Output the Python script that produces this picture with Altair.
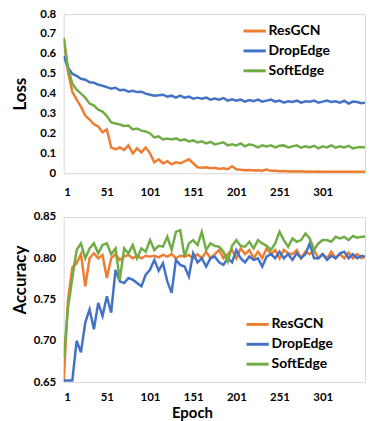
import altair as alt
import pandas as pd

EPOCHS = list(range(1, 350, 5)) + [350]
SERIES = ["ResGCN", "DropEdge", "SoftEdge"]
COLORS = ["#ED7D31", "#4472C4", "#70AD47"]
X_TICKS = [1, 51, 101, 151, 201, 251, 301]
LOSS_TICKS = [0, 0.1, 0.2, 0.3, 0.4, 0.5, 0.6, 0.7, 0.8]
ACC_TICKS = [0.65, 0.70, 0.75, 0.80, 0.85]

LOSS_RESGCN = [
    0.68, 0.51, 0.41, 0.37, 0.335, 0.29, 0.27, 0.246, 0.235, 0.206,
    0.22, 0.13, 0.12, 0.13, 0.117, 0.14, 0.10, 0.125, 0.105, 0.13,
    0.10, 0.055, 0.07, 0.05, 0.06, 0.045, 0.055, 0.05, 0.06, 0.07,
    0.05, 0.03, 0.028, 0.03, 0.025, 0.027, 0.022, 0.025, 0.02, 0.035,
    0.02, 0.018, 0.015, 0.016, 0.014, 0.015, 0.013, 0.018, 0.012, 0.013,
    0.010, 0.011, 0.009, 0.010, 0.009, 0.010, 0.008, 0.009, 0.008, 0.009,
    0.008, 0.008, 0.007, 0.008, 0.007, 0.008, 0.007, 0.008, 0.007, 0.008,
    0.008,
]
LOSS_DROPEDGE = [
    0.59, 0.53, 0.50, 0.49, 0.475, 0.47, 0.457, 0.455, 0.445, 0.44,
    0.433, 0.425, 0.43, 0.417, 0.42, 0.41, 0.415, 0.408, 0.41, 0.40,
    0.395, 0.39, 0.392, 0.395, 0.385, 0.39, 0.38, 0.39, 0.38, 0.385,
    0.375, 0.38, 0.375, 0.38, 0.37, 0.375, 0.37, 0.378, 0.365, 0.372,
    0.365, 0.37, 0.36, 0.368, 0.362, 0.37, 0.36, 0.365, 0.37, 0.36,
    0.365, 0.355, 0.362, 0.358, 0.365, 0.355, 0.362, 0.36, 0.365, 0.355,
    0.36, 0.365, 0.358, 0.362, 0.355, 0.365, 0.35, 0.36, 0.358, 0.352,
    0.355,
]
LOSS_SOFTEDGE = [
    0.68, 0.53, 0.45, 0.42, 0.40, 0.38, 0.35, 0.34, 0.32, 0.31,
    0.287, 0.255, 0.25, 0.245, 0.238, 0.24, 0.22, 0.225, 0.214, 0.21,
    0.20, 0.18, 0.185, 0.17, 0.175, 0.17, 0.175, 0.165, 0.17, 0.16,
    0.165, 0.155, 0.16, 0.15, 0.158, 0.145, 0.15, 0.155, 0.14, 0.145,
    0.14, 0.15, 0.135, 0.145, 0.14, 0.13, 0.14, 0.135, 0.14, 0.13,
    0.138, 0.14, 0.13, 0.135, 0.14, 0.128, 0.135, 0.13, 0.138, 0.125,
    0.135, 0.13, 0.14, 0.128, 0.135, 0.13, 0.138, 0.125, 0.13, 0.132,
    0.13,
]
ACC_RESGCN = [
    0.65, 0.75, 0.789, 0.794, 0.805, 0.766, 0.80, 0.806, 0.80, 0.804,
    0.776, 0.80, 0.805, 0.798, 0.802, 0.804, 0.80, 0.803, 0.80, 0.803,
    0.802, 0.803, 0.801, 0.804, 0.802, 0.805, 0.80, 0.803, 0.802, 0.804,
    0.80, 0.805, 0.80, 0.808, 0.80, 0.805, 0.81, 0.80, 0.805, 0.81,
    0.80, 0.812, 0.805, 0.81, 0.80, 0.808, 0.80, 0.812, 0.805, 0.81,
    0.80, 0.81, 0.806, 0.805, 0.81, 0.80, 0.808, 0.805, 0.81, 0.80,
    0.805, 0.80, 0.808, 0.80, 0.805, 0.80, 0.807, 0.80, 0.805, 0.80,
    0.802,
]
ACC_DROPEDGE = [
    0.652, 0.652, 0.652, 0.70, 0.686, 0.722, 0.738, 0.714, 0.746, 0.73,
    0.754, 0.734, 0.786, 0.772, 0.77, 0.776, 0.774, 0.77, 0.766, 0.78,
    0.786, 0.798, 0.785, 0.794, 0.772, 0.758, 0.798, 0.792, 0.79, 0.778,
    0.806, 0.795, 0.80, 0.79, 0.80, 0.802, 0.795, 0.792, 0.80, 0.795,
    0.81, 0.80, 0.795, 0.802, 0.798, 0.80, 0.79, 0.802, 0.805, 0.80,
    0.808, 0.80, 0.805, 0.798, 0.806, 0.80, 0.805, 0.818, 0.80, 0.80,
    0.805, 0.798, 0.803, 0.80, 0.806, 0.808, 0.80, 0.805, 0.80, 0.803,
    0.802,
]
ACC_SOFTEDGE = [
    0.68, 0.74, 0.776, 0.81, 0.818, 0.80, 0.812, 0.818, 0.806, 0.816,
    0.818, 0.805, 0.812, 0.774, 0.812, 0.806, 0.816, 0.80, 0.812, 0.808,
    0.822, 0.81, 0.815, 0.814, 0.826, 0.81, 0.832, 0.834, 0.802, 0.818,
    0.822, 0.816, 0.832, 0.81, 0.818, 0.815, 0.814, 0.808, 0.796, 0.815,
    0.822, 0.815, 0.814, 0.82, 0.812, 0.822, 0.818, 0.815, 0.81, 0.818,
    0.832, 0.822, 0.814, 0.824, 0.82, 0.822, 0.83, 0.824, 0.81, 0.818,
    0.822, 0.822, 0.82, 0.826, 0.824, 0.826, 0.822, 0.827, 0.825, 0.826,
    0.826,
]


def long_frame(series_values):
    rows = []
    for name, vals in zip(SERIES, series_values):
        for e, v in zip(EPOCHS, vals):
            rows.append({"epoch": e, "series": name, "value": v})
    return pd.DataFrame(rows)


loss_df = long_frame([LOSS_RESGCN, LOSS_DROPEDGE, LOSS_SOFTEDGE])
acc_df = long_frame([ACC_RESGCN, ACC_DROPEDGE, ACC_SOFTEDGE])

FONT = "Lato"


def panel(df, ytitle, ydomain, yticks, yfmt, height, legend_x, legend_y, title_y,
          xtitle, xlabel_pad):
    color = alt.Color(
        "series:N",
        sort=SERIES,
        scale=alt.Scale(domain=SERIES, range=COLORS),
        legend=alt.Legend(
            title=None, orient="none", legendX=legend_x, legendY=legend_y,
            symbolType="stroke", symbolStrokeWidth=3, symbolSize=500,
            labelFont=FONT, labelFontWeight="bold", labelFontSize=14,
            labelColor="#000000", labelOffset=1, rowPadding=-7,
        ),
    )
    yaxis_kw = dict(values=yticks, format=yfmt, title=ytitle, titleX=-34,
                    titleFontSize=17, labelPadding=8)
    if title_y is not None:
        yaxis_kw["titleY"] = title_y
    xaxis_kw = dict(values=X_TICKS, format="d", labelPadding=xlabel_pad)
    if xtitle:
        xaxis_kw.update(title=xtitle, titleX=129, titleFontSize=15,
                        titlePadding=2)
    else:
        xaxis_kw["title"] = None
    return alt.Chart(df).mark_line(strokeWidth=2.5, clip=True).encode(
        x=alt.X("epoch:Q", scale=alt.Scale(domain=[1, 350], nice=False, zero=False),
                axis=alt.Axis(**xaxis_kw)),
        y=alt.Y("value:Q", scale=alt.Scale(domain=ydomain, nice=False, zero=False),
                axis=alt.Axis(**yaxis_kw)),
        color=color,
        order=alt.Order("epoch:Q"),
    ).properties(width=303, height=height)


top = panel(loss_df, "Loss", [0, 0.8], LOSS_TICKS, ".1~f", 160, 179, 4, None, None, 13)
bottom = panel(acc_df, "Accuracy", [0.65, 0.85], ACC_TICKS, ".2f", 166, 182, 95, 63, "Epoch", 10)

chart = alt.vconcat(top, bottom, spacing=12).resolve_legend(color="independent").resolve_scale(
    color="independent"
).properties(
    padding={"left": 3, "top": -2, "right": 0, "bottom": 0}
).configure_view(stroke="#d9d9d9", strokeWidth=1).configure_axis(
    domain=False, ticks=False, grid=False,
    labelFont=FONT, labelFontWeight="bold", labelFontSize=11.5, labelColor="#000000",
    titleFont=FONT, titleFontWeight="bold", titleColor="#000000",
)

chart.save("out.html", embed_options={"renderer": "svg", "actions": False})
